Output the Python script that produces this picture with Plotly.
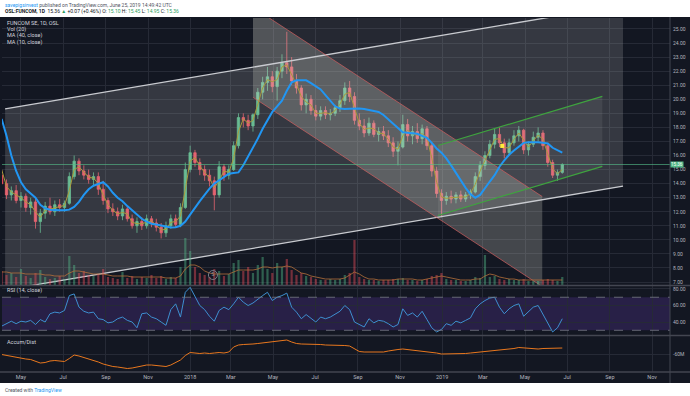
import plotly.graph_objects as go
import pandas as pd

# ---------------- data (weekly bars) ----------------
week_start = "2017-04-03"
n_weeks = 117
dates = pd.date_range(week_start, periods=n_weeks, freq="7D")

opens = [14.6,14.0,13.2,13.5,12.8,13.1,12.3,12.7,11.3,11.9,12.4,12.0,12.5,12.3,
         12.6,14.5,15.6,14.9,14.6,14.3,14.5,13.6,12.8,12.2,12.0,11.7,12.2,
         11.5,11.0,11.3,11.0,11.5,11.2,10.9,10.5,11.0,11.5,11.1,12.3,
         15.0,16.2,15.5,15.0,14.6,14.2,13.2,15.2,14.6,15.0,16.7,18.7,18.5,
         18.1,18.9,20.5,21.2,21.6,20.9,22.0,22.6,22.3,21.3,20.8,19.6,20.0,
         19.2,18.8,19.2,18.9,19.0,19.4,19.9,20.8,20.2,18.5,18.1,17.6,18.3,
         17.5,17.7,17.4,16.9,16.3,16.6,18.2,17.4,17.7,17.2,17.9,16.7,14.9,
         13.3,12.8,13.1,12.9,13.2,12.9,13.2,13.4,14.5,15.3,16.0,16.8,17.5,
         16.9,16.2,16.9,17.4,17.8,16.4,16.8,17.3,17.6,16.7,15.5,14.6,14.8]
highs = [15.0,14.3,13.8,13.9,13.4,13.3,13.0,12.9,12.2,12.7,13.0,12.8,12.9,12.8,
         14.8,16.0,15.8,15.3,15.0,14.8,14.8,14.2,13.0,12.6,12.3,12.5,12.4,
         11.8,11.6,11.6,11.8,11.7,11.5,11.2,11.3,11.8,11.8,12.6,15.5,
         16.7,16.4,15.8,15.3,15.0,14.5,15.6,15.4,15.3,17.0,19.0,19.0,18.9,
         19.0,20.8,21.6,22.3,22.0,22.3,23.2,24.8,23.0,21.8,21.0,20.4,20.3,
         19.6,19.5,19.5,19.3,19.6,20.3,21.2,21.3,20.5,19.0,18.6,18.7,18.5,
         18.0,18.1,17.8,17.3,17.0,18.9,18.6,18.1,18.3,18.2,18.1,16.9,15.2,
         13.6,13.4,13.5,13.4,13.5,13.4,13.6,14.8,15.6,16.3,17.1,17.9,18.0,
         17.2,17.2,17.8,18.1,17.9,17.0,17.7,18.0,17.8,16.9,15.7,15.0,15.45]
lows = [13.9,12.9,12.8,12.6,12.3,12.0,11.8,10.8,10.5,11.5,11.8,11.7,12.0,12.0,
        12.5,14.3,14.6,14.3,14.0,13.8,13.2,12.5,11.9,11.7,11.4,11.4,11.3,
        10.8,10.5,10.7,10.8,10.9,10.6,10.1,10.2,10.8,10.9,10.9,12.2,
        14.8,15.2,14.6,14.2,13.8,12.1,13.0,14.2,14.3,14.9,16.5,18.0,17.8,
        17.7,18.6,20.0,20.6,20.5,19.9,21.5,21.8,21.0,20.4,19.2,19.0,18.9,
        18.5,18.5,18.6,18.5,18.8,19.1,19.6,19.8,18.2,17.8,17.3,17.4,17.3,
        17.0,17.1,16.6,15.9,15.3,16.5,17.0,16.8,16.9,16.8,16.4,14.5,13.0,
        11.6,12.5,12.6,12.6,12.7,12.7,12.9,13.3,14.2,15.0,15.8,16.5,16.6,
        15.8,16.0,16.7,17.0,16.1,16.0,16.6,17.0,16.4,15.2,14.4,14.2,14.7]
closes = [14.0,13.2,13.5,12.8,13.1,12.3,12.7,11.3,11.9,12.4,12.0,12.5,12.3,12.6,
          14.5,15.6,14.9,14.6,14.3,14.5,13.6,12.8,12.2,12.0,11.7,12.2,11.5,
          11.0,11.3,11.0,11.5,11.2,10.9,10.5,11.0,11.5,11.1,12.3,15.0,
          16.2,15.5,15.0,14.6,14.2,13.2,15.2,14.6,15.0,16.7,18.7,18.5,18.1,
          18.9,20.5,21.2,21.6,20.9,22.0,22.6,22.3,21.3,20.8,19.6,20.0,19.2,
          18.8,19.2,18.9,19.0,19.4,19.9,20.8,20.2,18.5,18.1,17.6,18.3,17.5,
          17.7,17.4,16.9,16.3,16.6,18.2,17.4,17.7,17.2,17.9,16.7,14.9,13.3,
          12.8,13.1,12.9,13.2,12.9,13.2,13.4,14.5,15.3,16.0,16.8,17.5,16.9,
          16.2,16.9,17.4,17.8,16.4,16.8,17.3,17.6,16.7,15.5,14.6,14.8,15.36]
volume_m = [1.4,1.0,1.2,0.8,1.6,0.9,0.7,1.2,1.5,0.8,0.6,0.7,0.9,0.6,
            2.9,2.0,1.2,1.4,1.0,0.9,1.1,1.6,0.8,0.7,0.6,1.3,0.7,
            0.9,0.6,0.8,0.7,1.0,0.7,0.9,0.6,0.8,0.7,1.8,4.7,
            3.4,1.8,1.2,1.0,0.8,1.6,1.4,0.9,1.1,2.2,2.5,1.4,1.8,
            1.2,2.0,2.8,1.6,1.2,2.2,1.8,2.6,1.5,1.0,1.2,0.9,0.8,
            0.6,0.5,0.5,0.6,0.5,0.6,1.0,1.2,4.5,0.8,0.6,0.5,0.5,
            0.4,0.5,0.5,0.6,0.6,0.7,0.5,0.5,0.4,0.5,0.6,0.9,1.0,
            1.2,0.6,0.5,0.5,0.4,0.4,0.5,0.8,0.7,3.0,0.8,0.9,0.6,
            0.5,0.6,0.5,0.5,0.6,0.4,0.4,0.4,0.5,0.6,0.5,0.4,0.8]
volume_ma20 = [1.3,1.3,1.2,1.2,1.2,1.1,1.1,1.1,1.1,1.0,1.0,0.9,0.9,0.9,
               1.2,1.4,1.4,1.3,1.2,1.1,1.1,1.1,1.0,0.9,0.9,0.9,0.9,
               0.8,0.8,0.8,0.8,0.8,0.8,0.8,0.7,0.7,0.7,0.9,1.6,
               2.0,2.0,1.8,1.4,1.2,1.1,1.1,1.1,1.1,1.3,1.5,1.5,1.5,
               1.5,1.6,1.8,1.8,1.7,1.8,1.8,1.9,1.8,1.5,1.2,1.1,0.9,
               0.8,0.7,0.6,0.6,0.6,0.6,0.7,1.0,1.3,1.1,0.8,0.6,0.6,
               0.5,0.5,0.5,0.5,0.6,0.6,0.6,0.6,0.5,0.5,0.6,0.7,0.8,
               0.9,0.8,0.7,0.6,0.5,0.5,0.5,0.6,0.6,0.9,1.1,1.0,0.8,
               0.7,0.6,0.6,0.5,0.5,0.5,0.5,0.5,0.5,0.5,0.5,0.5,0.5]
ma40 = [18.6,17.4,16.0,14.9,14.1,13.6,13.3,13.0,12.5,12.25,12.15,12.1,12.1,12.1,
        12.15,12.35,12.7,13.2,13.6,13.85,13.95,14.1,13.8,13.35,13.0,12.75,12.4,
        12.1,11.8,11.5,11.3,11.15,11.1,11.05,10.95,10.88,10.9,11.0,11.3,
        11.8,12.3,12.75,13.2,13.65,14.0,14.25,14.45,14.7,14.76,14.8,15.3,15.9,
        16.5,17.2,17.9,18.5,19.1,19.5,19.9,20.6,21.2,21.35,21.37,21.35,21.15,
        20.9,20.7,20.3,19.9,19.5,19.35,19.3,19.32,19.36,19.35,19.3,19.24,19.2,
        19.1,18.88,18.55,18.25,17.95,17.65,17.6,17.6,17.55,17.4,17.25,16.9,16.5,
        16.2,15.8,15.3,14.75,14.2,13.7,13.25,13.0,13.2,13.7,14.15,14.6,15.2,
        15.65,16.05,16.35,16.65,16.9,16.95,16.96,16.95,16.9,16.85,16.55,16.35,16.2]
ma10 = [15.0,13.8,13.4,13.2,13.0,12.7,12.5,12.0,11.6,12.1,12.2,12.25,12.4,12.45,
        13.5,15.0,15.2,14.8,14.45,14.4,14.0,13.2,12.5,12.1,11.85,11.95,11.85,
        11.25,11.15,11.15,11.25,11.35,11.05,10.7,10.75,11.25,11.3,11.7,13.6,
        15.6,15.85,15.25,14.8,14.4,13.7,14.2,14.9,14.8,15.8,17.7,18.6,18.3,
        18.5,19.7,20.8,21.4,21.25,21.4,22.3,22.45,21.8,21.05,20.2,19.8,19.6,
        19.0,19.0,19.05,18.95,19.2,19.65,20.35,20.5,19.35,18.3,17.85,17.95,17.9,
        17.6,17.55,17.15,16.6,16.45,17.4,17.8,17.55,17.45,17.55,17.3,15.8,14.1,
        13.05,12.95,13.0,13.05,13.05,13.05,13.3,13.95,14.9,15.65,16.4,17.15,17.2,
        16.55,16.55,17.15,17.6,17.1,16.6,17.05,17.45,17.15,16.1,15.05,14.7,15.0]
rsi14 = [35,38,41,38,41,40,42,37,43,40,50,52,51,54,
         72,74,58,53,51,52,44,43,39,40,44,46,42,
         40,33,50,51,46,44,40,36,55,62,46,76,
         82,70,60,55,47,41,54,58,55,62,70,64,60,
         63,68,72,76,66,70,72,75,58,52,44,49,44,
         40,46,44,46,49,53,60,55,40,37,34,44,39,
         42,41,38,34,37,56,48,51,46,53,43,33,28,
         31,38,36,41,39,42,45,56,62,66,69,70,58,
         50,56,60,62,47,53,58,60,49,38,28,33,44]
accum_dist_m = [-61,-63,-65,-66,-68,-70,-71,-74,-78,-77,-74,-73,-74,-75,
                -69,-62,-64,-67,-69,-72,-76,-80,-83,-85,-86,-87,-89,
                -88,-86,-84,-82,-82,-83,-85,-85,-82,-77,-72,-63,
                -57,-58,-59,-58,-59,-58,-57,-58,-56,-46,-42,-41,-41,
                -40,-39,-38,-36,-35,-34,-33,-32,-36,-39,-40,-40,-41,
                -41,-41,-42,-42,-42,-43,-43,-44,-50,-55,-56,-56,-57,
                -57,-56,-54,-52,-51,-50,-51,-52,-53,-54,-55,-56,-58,
                -60,-60,-60,-59,-59,-59,-58,-57,-56,-55,-54,-53,-52,
                -52,-51,-49,-47,-48,-49,-50,-50,-49,-49,-49,-48,-48]

month_ticks = ["2017-05-01", "2017-07-01", "2017-09-01", "2017-11-01", "2018-01-01",
               "2018-03-01", "2018-05-01", "2018-07-01", "2018-09-01", "2018-11-01",
               "2019-01-01", "2019-03-01", "2019-05-01", "2019-07-01", "2019-09-01",
               "2019-11-01"]
month_labels = ["May", "Jul", "Sep", "Nov", "2018", "Mar", "May", "Jul", "Sep", "Nov",
                "2019", "Mar", "May", "Jul", "Sep", "Nov"]
price_ticks = list(range(7, 26))
rsi_ticks = [40, 60, 80]
ad_ticks = [-60]
ad_tick_labels = ["-60M"]

# drawing-tool anchors (dates, prices)
asc_dates = ["2017-04-08", "2019-09-20"]
asc_upper = [19.32, 26.71]
asc_lower = [6.44, 13.82]
zone_dates = ["2018-04-02", "2019-09-20"]
zone_floor = [22.29, 26.71]
zone_top = [28.0, 28.0]
desc_dates = ["2018-04-02", "2019-05-26"]
desc_upper = [26.54, 13.08]
desc_lower = [20.14, 6.68]
green_dates = ["2018-12-26", "2019-08-21"]
green_upper = [16.71, 20.21]
green_lower = [11.73, 15.23]
last_price = 15.36
note_dates = ["2019-03-29"]
note_prices = [16.68]
div_dates = ["2018-02-03"]
div_level = [1.0]

# ---------------- styling ----------------
BG = "#131722"
GRID = "#262a36"
TXT = "#b2b5be"
UP = "#53b987"
DN = "#eb4d5c"
FONT = "Roboto, Arial, sans-serif"

W, H = 690, 396
ML, MR, MT, MB = 2, 20, 18, 24
PW, PH = W - ML - MR, H - MT - MB


def px_x(px):
    return (px - ML) / PW


def px_y(py):
    return (H - MB - py) / PH


fig = go.Figure()

def poly(xd, top, bot, color):
    fig.add_trace(go.Scatter(
        x=[xd[0], xd[1], xd[1], xd[0], xd[0]],
        y=[top[0], top[1], bot[1], bot[0], top[0]],
        mode="lines", fill="toself", fillcolor=color,
        line=dict(width=0), hoverinfo="skip", showlegend=False,
        xaxis="x", yaxis="y"))


def seg(xd, yv, color, width):
    fig.add_trace(go.Scatter(x=xd, y=yv, mode="lines",
                             line=dict(color=color, width=width),
                             hoverinfo="skip", showlegend=False,
                             xaxis="x", yaxis="y"))

# channel fills
poly(asc_dates, asc_upper, asc_lower, "rgba(200,200,200,0.19)")
poly(zone_dates, zone_top, zone_floor, "rgba(200,200,200,0.10)")
poly(desc_dates, desc_upper, desc_lower, "rgba(215,215,205,0.25)")
poly(green_dates, green_upper, green_lower, "rgba(200,200,200,0.10)")

# volume
vol_colors = ["rgba(83,185,135,0.45)" if c >= o else "rgba(235,77,92,0.45)"
              for o, c in zip(opens, closes)]
fig.add_trace(go.Bar(x=dates, y=volume_m, marker=dict(color=vol_colors, line=dict(width=0)),
                     width=3.2 * 86400000, xaxis="x", yaxis="y4",
                     hoverinfo="skip", showlegend=False))
fig.add_trace(go.Scatter(x=dates, y=volume_ma20, mode="lines",
                         line=dict(color="#b5703a", width=0.8),
                         xaxis="x", yaxis="y4", hoverinfo="skip", showlegend=False))
fig.add_trace(go.Scatter(x=div_dates, y=div_level, mode="markers+text", text=["S"],
                         textfont=dict(size=5, color="#9598a1", family=FONT),
                         marker=dict(symbol="circle-open", size=9, color="#787b86", line=dict(width=1)),
                         xaxis="x", yaxis="y4", hoverinfo="skip", showlegend=False))

# channel lines
seg(asc_dates, asc_upper, "#c9cbd0", 1.3)
seg(asc_dates, asc_lower, "#c9cbd0", 1.3)
seg(desc_dates, desc_upper, "rgba(215,95,95,0.85)", 0.8)
seg(desc_dates, desc_lower, "rgba(215,95,95,0.85)", 0.8)
seg(green_dates, green_upper, "#3fa33f", 1.2)
seg(green_dates, green_lower, "#3fa33f", 1.2)

# last price line
fig.add_shape(type="line", xref="paper", x0=0, x1=1, yref="y", y0=last_price, y1=last_price,
              line=dict(color="rgba(83,185,135,0.8)", width=0.8))

# candles
fig.add_trace(go.Candlestick(x=dates, open=opens, high=highs, low=lows, close=closes,
                             increasing=dict(line=dict(color=UP, width=0.8), fillcolor=UP),
                             decreasing=dict(line=dict(color=DN, width=0.8), fillcolor=DN),
                             whiskerwidth=0, xaxis="x", yaxis="y",
                             hoverinfo="skip", showlegend=False))
fig.add_trace(go.Scatter(x=dates, y=ma10, mode="lines", line=dict(color="#a89a3c", width=1),
                         xaxis="x", yaxis="y", hoverinfo="skip", showlegend=False))
fig.add_trace(go.Scatter(x=dates, y=ma40, mode="lines", line=dict(color="#2196f3", width=2),
                         xaxis="x", yaxis="y", hoverinfo="skip", showlegend=False))
fig.add_trace(go.Scatter(x=note_dates, y=note_prices, mode="markers",
                         marker=dict(color="#ffeb3b", size=4, symbol="square"),
                         xaxis="x", yaxis="y", hoverinfo="skip", showlegend=False))

# RSI pane
fig.add_shape(type="rect", xref="paper", x0=0, x1=1, yref="y2", y0=30, y1=70,
              fillcolor="rgba(103,58,183,0.25)", line=dict(width=0), layer="below")
for lvl in (30, 70):
    fig.add_shape(type="line", xref="paper", x0=0, x1=1, yref="y2", y0=lvl, y1=lvl,
                  line=dict(color="#787b86", width=0.8, dash="dash"))
fig.add_trace(go.Scatter(x=dates, y=rsi14, mode="lines", line=dict(color="#3e8fd0", width=1),
                         xaxis="x2", yaxis="y2", hoverinfo="skip", showlegend=False))

# Accum/Dist pane
fig.add_trace(go.Scatter(x=dates, y=accum_dist_m, mode="lines",
                         line=dict(color="#e8771e", width=1),
                         xaxis="x3", yaxis="y3", hoverinfo="skip", showlegend=False))

x_range = ["2017-04-03 12:00", "2019-11-27"]
xcommon = dict(type="date", range=x_range, tickvals=month_ticks, ticktext=month_labels,
               showgrid=True, gridcolor=GRID, gridwidth=1, zeroline=False,
               showline=False, ticks="")
ycommon = dict(side="right", showgrid=True, gridcolor=GRID, zeroline=False,
               tickfont=dict(size=5, color=TXT, family=FONT), ticks="", showline=False,
               ticklabelstandoff=2)

fig.update_layout(
    width=W, height=H, margin=dict(l=ML, r=MR, t=MT, b=MB),
    paper_bgcolor=BG, plot_bgcolor=BG, showlegend=False,
    font=dict(family=FONT, color=TXT),
    xaxis=dict(**xcommon, domain=[0, 1], anchor="y", showticklabels=False,
               rangeslider=dict(visible=False)),
    xaxis2=dict(**xcommon, domain=[0, 1], anchor="y2", matches="x", showticklabels=False),
    xaxis3=dict(**xcommon, domain=[0, 1], anchor="y3", matches="x", showticklabels=True,
                tickfont=dict(size=5.5, color=TXT, family=FONT)),
    yaxis=dict(**ycommon, domain=[px_y(285), 1], range=[6.79, 25.78],
               tickvals=price_ticks, ticktext=[f"{v:.2f}" for v in price_ticks]),
    yaxis2=dict(**ycommon, domain=[px_y(335), px_y(286)], range=[24.3, 83.6],
                tickvals=rsi_ticks, ticktext=[f"{v:.2f}" for v in rsi_ticks]),
    yaxis3=dict(**ycommon, domain=[0, px_y(336)], range=[-96, -24],
                tickvals=ad_ticks, ticktext=ad_tick_labels),
    yaxis4=dict(overlaying="y", side="left", range=[0, 26.7], visible=False,
                showgrid=False, zeroline=False),
)

# pane separators and frame
for py_ in (285.5, 335.5, 372):
    fig.add_shape(type="line", xref="paper", yref="paper", x0=px_x(0), x1=px_x(690),
                  y0=px_y(py_), y1=px_y(py_), line=dict(color="#434651", width=1.5))
fig.add_shape(type="line", xref="paper", yref="paper", x0=1, x1=1, y0=px_y(383), y1=px_y(17),
              line=dict(color="#434651", width=1))

# white header / footer strips
fig.add_shape(type="rect", xref="paper", yref="paper", x0=px_x(-2), x1=px_x(692),
              y0=px_y(17), y1=px_y(-2), fillcolor="white", line=dict(width=0), layer="above")
fig.add_shape(type="rect", xref="paper", yref="paper", x0=px_x(-2), x1=px_x(692),
              y0=px_y(398), y1=px_y(383), fillcolor="white", line=dict(width=0), layer="above")

# price label on axis
fig.add_annotation(xref="paper", yref="y", x=1, y=last_price, text="15.36",
                   showarrow=False, xanchor="left", bgcolor=UP,
                   font=dict(size=4.5, color="white", family=FONT), borderpad=0)

def label(px, py, text, size=5.5, color="#d1d4dc"):
    fig.add_annotation(xref="paper", yref="paper", x=px_x(px), y=px_y(py), text=text,
                       showarrow=False, xanchor="left", yanchor="middle",
                       font=dict(size=size, color=color, family=FONT))

G = "#2e9e62"
label(3, 5, "<span style='color:#2196f3'>savepigsinvest</span> published on TradingView.com, June 25, 2019 14:49:42 UTC",
      size=5, color="#50535e")
label(3, 11.5, "<b>OSL:FUNCOM, 1D</b>  15.36 <span style='color:%s'>▲</span> +0.07 (+0.46%%) O: <span style='color:%s'>15.10</span> "
      "H: <span style='color:%s'>15.45</span> L: <span style='color:%s'>14.95</span> C: <span style='color:%s'>15.36</span>"
      % (G, G, G, G, G), size=5, color="#131722")
label(5, 23, "FUNCOM SE, 1D, OSL")
label(5, 29.5, "Vol (20)")
label(5, 35.5, "MA (40, close)")
label(5, 42, "MA (10, close)")
label(5, 290.5, "RSI (14, close)")
label(5, 342, "Accum/Dist")
label(3, 390, "Created with <span style='color:#2196f3'>TradingView</span>", size=5, color="#50535e")

fig.write_html("out.html", config={"displayModeBar": False},
               post_script="document.body.style.margin='0px';")
